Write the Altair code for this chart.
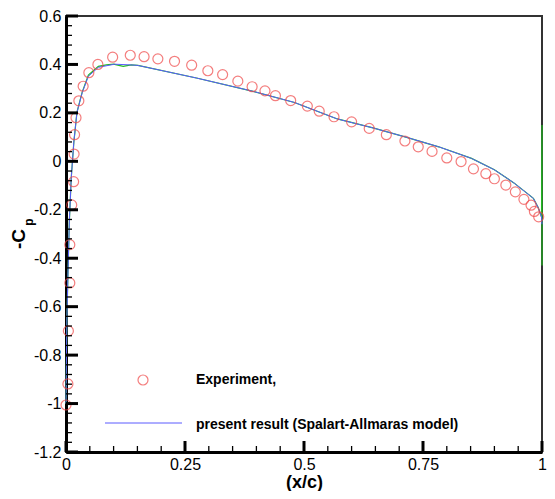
import altair as alt
import pandas as pd

# Experimental data (red circles)
exp_x = [0.000, 0.004, 0.005, 0.008, 0.008, 0.012, 0.016, 0.017, 0.018, 0.021,
         0.027, 0.036, 0.048, 0.067, 0.098, 0.135, 0.164, 0.193, 0.228, 0.264,
         0.298, 0.329, 0.361, 0.391, 0.418, 0.440, 0.472, 0.507, 0.532, 0.563,
         0.600, 0.637, 0.673, 0.712, 0.740, 0.769, 0.800, 0.830, 0.856, 0.882,
         0.900, 0.924, 0.944, 0.962, 0.977, 0.984, 0.993]
exp_y = [-1.006, -0.919, -0.700, -0.502, -0.344, -0.180, -0.084, 0.030, 0.110, 0.180,
         0.250, 0.310, 0.366, 0.400, 0.430, 0.438, 0.432, 0.423, 0.413, 0.397,
         0.374, 0.358, 0.331, 0.308, 0.291, 0.271, 0.251, 0.228, 0.207, 0.184,
         0.163, 0.136, 0.110, 0.084, 0.060, 0.041, 0.014, -0.001, -0.031, -0.051,
         -0.072, -0.098, -0.126, -0.157, -0.181, -0.207, -0.229]

# Present result, Spalart-Allmaras (blue line)
sa_x = [0.000, 0.001, 0.002, 0.004, 0.007, 0.011, 0.0165, 0.023, 0.034, 0.047,
        0.068, 0.102, 0.137, 0.151, 0.274, 0.391, 0.480, 0.570, 0.645, 0.714,
        0.783, 0.852, 0.900, 0.941, 0.982, 0.992, 0.999, 1.000]
sa_y = [-1.00, -0.80, -0.64, -0.475, -0.25, -0.069, 0.080, 0.202, 0.283, 0.351,
        0.388, 0.401, 0.398, 0.396, 0.344, 0.290, 0.243, 0.175, 0.138, 0.100,
        0.060, 0.012, -0.035, -0.089, -0.153, -0.191, -0.230, -0.260]

# Second computed curve (green, mostly hidden under the blue one)
g_x = [0.000, 0.001, 0.002, 0.004, 0.007, 0.011, 0.0165, 0.023, 0.034, 0.047,
       0.068, 0.085, 0.100, 0.120, 0.137, 0.151, 0.274, 0.391, 0.480, 0.570,
       0.645, 0.714, 0.783, 0.852, 0.900, 0.941, 0.982, 0.992, 0.999, 1.000, 1.000]
g_y = [-1.00, -0.80, -0.64, -0.475, -0.25, -0.069, 0.080, 0.202, 0.286, 0.356,
       0.392, 0.398, 0.401, 0.392, 0.398, 0.396, 0.344, 0.290, 0.243, 0.175,
       0.138, 0.100, 0.060, 0.012, -0.035, -0.089, -0.153, -0.191, -0.230, 0.150, -0.430]

x_major = [0, 0.25, 0.5, 0.75, 1]
x_minor = [0.05, 0.1, 0.15, 0.2, 0.3, 0.35, 0.4, 0.45, 0.55, 0.6, 0.65, 0.7,
           0.8, 0.85, 0.9, 0.95]
y_major = [-1.2, -1, -0.8, -0.6, -0.4, -0.2, 0, 0.2, 0.4, 0.6]
y_minor = [-1.16, -1.12, -1.08, -1.04, -0.96, -0.92, -0.88, -0.84, -0.76, -0.72,
           -0.68, -0.64, -0.56, -0.52, -0.48, -0.44, -0.36, -0.32, -0.28, -0.24,
           -0.16, -0.12, -0.08, -0.04, 0.04, 0.08, 0.12, 0.16, 0.24, 0.28, 0.32,
           0.36, 0.44, 0.48, 0.52, 0.56]

legend_labels = ["Experiment,", "present result (Spalart-Allmaras model)"]
y_title_main = "-C"
y_title_sub = "p"
x_title = "(x/c)"

FONT = "Liberation Sans"
RED = "#f04848"
BLUE = "#5a5aff"
GREEN = "#22bb22"
W = 476
H = 436

xs = alt.Scale(domain=[0, 1], nice=False, zero=False)
ys = alt.Scale(domain=[-1.2, 0.6], nice=False, zero=False)

exp_df = pd.DataFrame({"x": exp_x, "y": exp_y})
sa_df = pd.DataFrame({"x": sa_x, "y": sa_y, "i": list(range(len(sa_x)))})
g_df = pd.DataFrame({"x": g_x, "y": g_y, "i": list(range(len(g_x)))})

x_axis = alt.Axis(values=x_major, labelExpr="toString(datum.value)", ticks=False,
                  tickSize=0, grid=False, domainWidth=3, domainColor="black",
                  labelFontSize=16, labelFont=FONT, labelColor="black",
                  labelPadding=4, labelFlush=False, title=x_title, titleFont=FONT,
                  titleFontSize=18, titleFontWeight="bold", titlePadding=1,
                  titleColor="black")
y_axis = alt.Axis(values=y_major, labelExpr="toString(datum.value)", ticks=False,
                  tickSize=0, grid=False, domainWidth=3, domainColor="black",
                  labelFontSize=16, labelFont=FONT, labelColor="black",
                  labelPadding=5, labelFlush=False, title=None)


def X(f):
    return alt.X(f, scale=xs, axis=x_axis)


def Y(f):
    return alt.Y(f, scale=ys, axis=y_axis)


green = alt.Chart(g_df).mark_line(color=GREEN, strokeWidth=1.2).encode(
    x=X("x:Q"), y=Y("y:Q"), order="i:Q")
blue = alt.Chart(sa_df).mark_line(color=BLUE, strokeWidth=1).encode(
    x=X("x:Q"), y=Y("y:Q"), order="i:Q")
pts = alt.Chart(exp_df).mark_point(shape="circle", size=100, color=RED,
                                   strokeWidth=1.2, filled=False).encode(
    x=X("x:Q"), y=Y("y:Q"))

# inward ticks
ymaj = alt.Chart(pd.DataFrame({"y": y_major})).mark_rule(color="black", strokeWidth=3).encode(
    y=Y("y:Q"), x=alt.value(0), x2=alt.value(12))
ymin = alt.Chart(pd.DataFrame({"y": y_minor})).mark_rule(color="black", strokeWidth=1.3).encode(
    y=Y("y:Q"), x=alt.value(0), x2=alt.value(6))
xmaj = alt.Chart(pd.DataFrame({"x": x_major})).mark_rule(color="black", strokeWidth=3).encode(
    x=X("x:Q"), y=alt.value(H), y2=alt.value(H - 11))
xmin = alt.Chart(pd.DataFrame({"x": x_minor})).mark_rule(color="black", strokeWidth=1.3).encode(
    x=X("x:Q"), y=alt.value(H), y2=alt.value(H - 6))

# legend
leg_pt = alt.Chart(pd.DataFrame({"t": [legend_labels[0]]})).mark_point(
    shape="circle", size=100, color=RED, strokeWidth=1.2, filled=False).encode(
    x=alt.value(77), y=alt.value(364))
leg_t1 = alt.Chart(pd.DataFrame({"t": [legend_labels[0]]})).mark_text(
    align="left", baseline="middle", font=FONT, fontSize=14, fontWeight="bold",
    color="black").encode(x=alt.value(130), y=alt.value(364), text="t:N")
leg_ln = alt.Chart(pd.DataFrame({"t": [legend_labels[1]]})).mark_rule(
    color=BLUE, strokeWidth=1).encode(x=alt.value(39), x2=alt.value(116), y=alt.value(407))
leg_t2 = alt.Chart(pd.DataFrame({"t": [legend_labels[1]]})).mark_text(
    align="left", baseline="middle", font=FONT, fontSize=14, fontWeight="bold",
    color="black").encode(x=alt.value(130), y=alt.value(409), text="t:N")

# y axis title -C_p
yt1 = alt.Chart(pd.DataFrame({"t": [y_title_main]})).mark_text(
    angle=270, align="center", baseline="middle", font=FONT, fontSize=19,
    fontWeight="bold", color="black").encode(x=alt.value(-47), y=alt.value(223), text="t:N")
yt2 = alt.Chart(pd.DataFrame({"t": [y_title_sub]})).mark_text(
    angle=270, align="center", baseline="middle", font=FONT, fontSize=12,
    fontWeight="bold", color="black").encode(x=alt.value(-37), y=alt.value(206), text="t:N")

chart = alt.layer(green, blue, pts, ymaj, ymin, xmaj, xmin,
                  leg_pt, leg_t1, leg_ln, leg_t2, yt1, yt2).properties(
    width=W, height=H,
    padding={"left": 58, "top": 8, "right": 5, "bottom": 39},
    autosize="none",
    background="white",
).configure_view(stroke="#333333", strokeWidth=2)

chart.save("out.html", embed_options={"renderer": "svg", "actions": False})
